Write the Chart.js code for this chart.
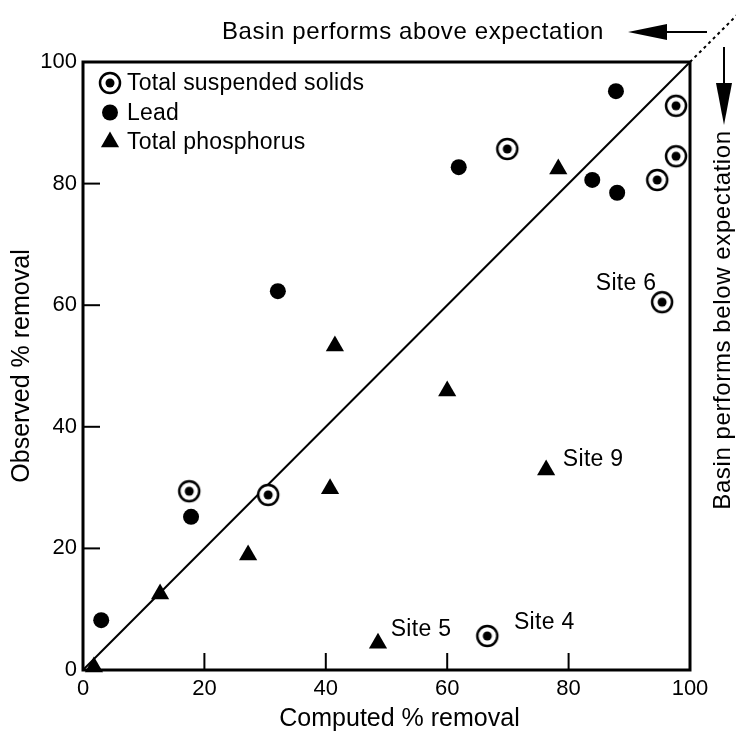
<!DOCTYPE html>
<html>
<head>
<meta charset="utf-8">
<script src="https://cdn.jsdelivr.net/npm/chart.js@4.4.1/dist/chart.umd.min.js"></script>
<style>
  html, body { margin: 0; padding: 0; background: #fff; }
  #wrap { width: 736px; height: 737px; }
</style>
</head>
<body>
<div id="wrap"><canvas id="removalChart"></canvas></div>
<script>
// computed vs observed % removal
const tssComputed  = [17.5, 30.5, 69.9, 97.7, 97.7, 94.6, 95.4, 66.6];
const tssObserved  = [29.4, 28.8, 85.7, 92.8, 84.5, 80.6, 60.5, 5.6];
const leadComputed = [3.0, 17.8, 32.1, 61.9, 87.8, 83.9, 88.0];
const leadObserved = [8.2, 25.2, 62.3, 82.7, 95.2, 80.6, 78.5];
const tpComputed   = [1.8, 12.7, 27.2, 40.7, 41.5, 60.0, 78.3, 76.3, 48.6];
const tpObserved   = [0.5, 12.5, 18.9, 29.8, 53.3, 45.9, 82.4, 32.9, 4.4];
const axisTicks    = [0, 20, 40, 60, 80, 100];
const seriesNames  = ['Total suspended solids', 'Lead', 'Total phosphorus'];
const xTitle = 'Computed % removal';
const yTitle = 'Observed % removal';

// labelled sites: [text, computed, observed]
const siteLabels = [
    ['Site 6', 95.4, 60.5],
    ['Site 9', 76.3, 32.9],
    ['Site 5', 48.6, 4.4],
    ['Site 4', 66.6, 5.6]
];

const FONT = '"Liberation Sans", Arial, Helvetica, sans-serif';

function toPoints(xs, ys) {
    return xs.map((x, i) => ({ x: x, y: ys[i] }));
}

// circled dot marker for TSS
function circledDot() {
    const c = document.createElement('canvas');
    c.width = 26; c.height = 26;
    const g = c.getContext('2d');
    g.fillStyle = '#fff';
    g.strokeStyle = '#000';
    g.lineWidth = 2.5;
    g.beginPath(); g.arc(13, 13, 10, 0, Math.PI * 2); g.fill(); g.stroke();
    g.fillStyle = '#000';
    g.beginPath(); g.arc(13, 13, 4.5, 0, Math.PI * 2); g.fill();
    return c;
}
const tssMarker = circledDot();

const extras = {
    id: 'extras',
    afterDatasetsDraw(chart) {
        const { ctx, chartArea: a, scales } = chart;
        const xs = scales.x, ys = scales.y;
        ctx.save();

        // frame
        ctx.strokeStyle = '#000';
        ctx.lineWidth = 3;
        ctx.strokeRect(a.left, a.top, a.right - a.left, a.bottom - a.top);

        // inward ticks
        ctx.lineWidth = 2;
        axisTicks.slice(1, -1).forEach(v => {
            const px = xs.getPixelForValue(v);
            ctx.beginPath(); ctx.moveTo(px, a.bottom); ctx.lineTo(px, a.bottom - 17); ctx.stroke();
            const py = ys.getPixelForValue(v);
            ctx.beginPath(); ctx.moveTo(a.left, py); ctx.lineTo(a.left + 17, py); ctx.stroke();
        });

        // dotted continuation of 1:1 line
        ctx.setLineDash([3, 3.5]);
        ctx.lineWidth = 2;
        ctx.beginPath();
        ctx.moveTo(a.right, a.top);
        ctx.lineTo(a.right + 48, a.top - 48);
        ctx.stroke();
        ctx.setLineDash([]);

        // left arrow
        const ay = 32;
        ctx.beginPath(); ctx.moveTo(707, ay); ctx.lineTo(664, ay); ctx.stroke();
        ctx.fillStyle = '#000';
        ctx.beginPath(); ctx.moveTo(628, ay); ctx.lineTo(667, ay - 8); ctx.lineTo(667, ay + 8); ctx.closePath(); ctx.fill();

        // down arrow
        const ax = 724;
        ctx.beginPath(); ctx.moveTo(ax, 47); ctx.lineTo(ax, 86); ctx.stroke();
        ctx.beginPath(); ctx.moveTo(ax, 125); ctx.lineTo(ax - 8, 83); ctx.lineTo(ax + 8, 83); ctx.closePath(); ctx.fill();

        // x axis title (sits a little right of centre in the original)
        ctx.font = '25px ' + FONT;
        ctx.textBaseline = 'middle';
        ctx.textAlign = 'center';
        ctx.fillText(xTitle, (a.left + a.right) / 2 + 13, 719);

        // annotation texts
        ctx.font = '24px ' + FONT;
        ctx.letterSpacing = '0.6px';
        ctx.fillText('Basin performs above expectation', 413, 32);
        ctx.save();
        ctx.translate(723, 320);
        ctx.rotate(-Math.PI / 2);
        ctx.fillText('Basin performs below expectation', 0, 0);
        ctx.restore();

        // site labels
        ctx.font = '23px ' + FONT;
        ctx.letterSpacing = '0.3px';
        const offs = { 'Site 6': [-36, -19], 'Site 9': [47, -10],
                       'Site 5': [43, -14], 'Site 4': [57, -13] };
        siteLabels.forEach(([t, x, y]) => {
            const o = offs[t];
            ctx.fillText(t, xs.getPixelForValue(x) + o[0], ys.getPixelForValue(y) + o[1]);
        });

        // legend inside plot
        const lx = a.left + 27, ly = a.top + 21, step = 29.5;
        ctx.textAlign = 'left';
        ctx.font = '23px ' + FONT;
        ctx.letterSpacing = '0.2px';
        chart.data.datasets.slice(0, 3).forEach((ds, i) => {
            const y = ly + i * step;
            if (i === 0) {
                ctx.drawImage(tssMarker, lx - 13, y - 13);
            } else if (i === 1) {
                ctx.beginPath(); ctx.arc(lx, y, 8, 0, Math.PI * 2); ctx.fill();
            } else {
                const r = 10.5;
                ctx.beginPath();
                ctx.moveTo(lx, y - r);
                ctx.lineTo(lx + r * 0.866, y + r / 2);
                ctx.lineTo(lx - r * 0.866, y + r / 2);
                ctx.closePath(); ctx.fill();
            }
            ctx.fillText(ds.label, lx + 17, y + 1);
        });

        ctx.restore();
    }
};

const ctx = document.getElementById('removalChart').getContext('2d');

const removalChart = new Chart(ctx, {
    type: 'scatter',
    data: {
        datasets: [{
            label: seriesNames[0],
            data: toPoints(tssComputed, tssObserved),
            pointStyle: tssMarker,
            clip: false,
            order: 1
        }, {
            label: seriesNames[1],
            data: toPoints(leadComputed, leadObserved),
            pointStyle: 'circle',
            pointRadius: 8,
            backgroundColor: '#000',
            borderColor: '#000',
            borderWidth: 0,
            clip: false,
            order: 1
        }, {
            label: seriesNames[2],
            data: toPoints(tpComputed, tpObserved),
            pointStyle: 'triangle',
            pointRadius: 10.5,
            backgroundColor: '#000',
            borderColor: '#000',
            borderWidth: 0,
            clip: false,
            order: 1
        }, {
            label: '1:1',
            type: 'line',
            data: [{ x: 0, y: 0 }, { x: 100, y: 100 }],
            borderColor: '#000',
            borderWidth: 2,
            pointRadius: 0,
            order: 5
        }]
    },
    options: {
        responsive: true,
        maintainAspectRatio: false,
        animation: false,
        events: [],
        layout: { padding: { top: 62, right: 46, left: 0, bottom: 0 } },
        plugins: {
            legend: { display: false },
            tooltip: { enabled: false }
        },
        scales: {
            x: {
                type: 'linear',
                min: 0, max: 100,
                afterFit: s => { s.height = 67; },
                afterBuildTicks: s => { s.ticks = axisTicks.map(v => ({ value: v })); },
                ticks: { color: '#000', font: { family: FONT, size: 22 }, padding: 6, maxRotation: 0 },
                grid: { drawOnChartArea: false, drawTicks: false },
                border: { display: false },
                title: { display: false }
            },
            y: {
                type: 'linear',
                min: 0, max: 100,
                afterFit: s => { s.width = 83; },
                afterBuildTicks: s => { s.ticks = axisTicks.map(v => ({ value: v })); },
                ticks: { color: '#000', font: { family: FONT, size: 22 }, padding: 6 },
                grid: { drawOnChartArea: false, drawTicks: false },
                border: { display: false },
                title: { display: true, text: yTitle, color: '#000',
                         font: { family: FONT, size: 25 }, padding: { top: 7, bottom: 0 } }
            }
        }
    },
    plugins: [extras]
});
</script>
</body>
</html>
